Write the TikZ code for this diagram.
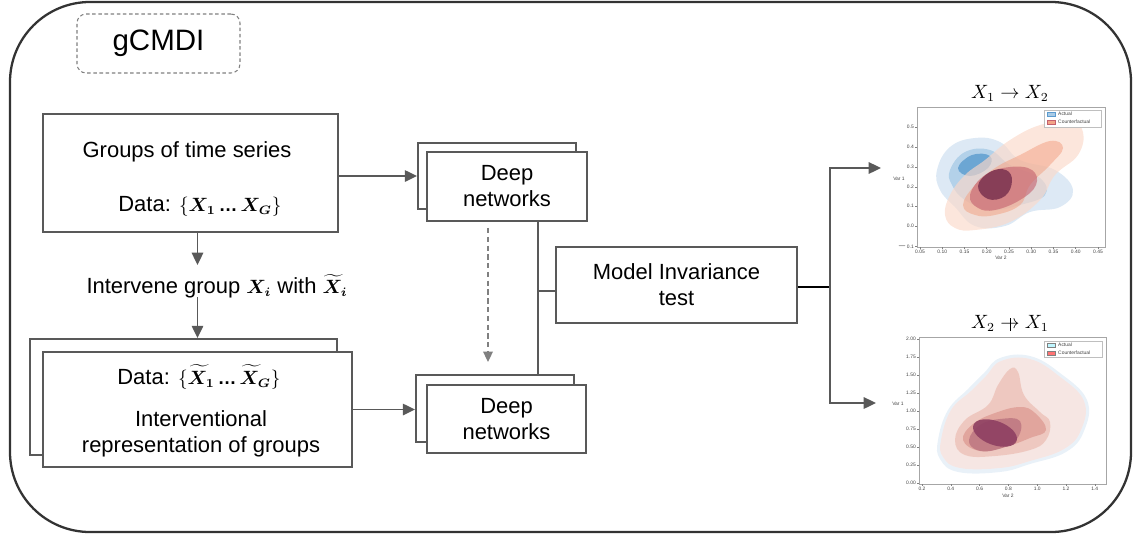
\documentclass[tikz,border=0pt]{standalone}
\usepackage{fontspec}
\setmainfont{Liberation Sans}
\usepackage{amsmath,amssymb,bm}
\usetikzlibrary{arrows.meta,calc}
\definecolor{lg}{HTML}{595959}
\definecolor{bord}{HTML}{333333}
\definecolor{bl1}{HTML}{D4E4F2}
\definecolor{bl2}{HTML}{A9CBE6}
\definecolor{bl3}{HTML}{5B9BCF}
\definecolor{rd1}{HTML}{FBD9C9}
\definecolor{rd2}{HTML}{F2A487}
\definecolor{rd3}{HTML}{C4606E}
\definecolor{rd4}{HTML}{6E2848}
\definecolor{pk1}{HTML}{F8E6E2}
\definecolor{pk2}{HTML}{EDC2B8}
\definecolor{pk3}{HTML}{DD9A92}
\definecolor{pk4}{HTML}{B8707E}
\definecolor{pk5}{HTML}{8E4062}
\newcommand{\narrow}{\mathrel{\hbox{\ooalign{$\rightarrow$\cr\hidewidth\rule[-0.3ex]{0.045em}{1.35ex}\hidewidth\cr}}}}
\newcommand{\bdots}{\mathinner{\textbf{\char"2026}}}
\newcommand{\mth}[1]{{\fontsize{10.6}{12}\selectfont$#1$}}
\begin{document}
\begin{tikzpicture}[x=0.02cm,y=-0.02cm,
  box/.style={draw=lg,line width=1.1pt,fill=white,inner sep=0pt},
  lbl/.style={font=\fontsize{12.5}{14.8}\selectfont,inner sep=1pt,align=center},
  arr/.style={draw=lg,line width=1.1pt,-{Triangle[length=7pt,width=6.5pt]}},
  dasharr/.style={draw=gray,line width=0.9pt,dashed,dash pattern=on 3pt off 2pt,-{Triangle[length=6pt,width=5.5pt]}},
  conn/.style={draw=lg,line width=1.1pt},
  tick/.style={font=\fontsize{2.8}{3}\selectfont,inner sep=0.5pt,text=black!75},
  frame/.style={draw=gray!70,line width=0.4pt},
  ttl/.style={font=\fontsize{10.5}{13}\selectfont,inner sep=0pt}]
\useasboundingbox (0,0) rectangle (1133,535);
% outer frame
\draw[bord,line width=1.3pt,rounded corners=1.6cm] (10,2) rectangle (1131,532);
% title
\node[draw=gray,dashed,dash pattern=on 2pt off 1.5pt,line width=0.6pt,rounded corners=0.18cm,
  minimum width=3.26cm,minimum height=1.18cm,font=\fontsize{16.8}{18}\selectfont] (gc) at (158.5,43.5) {gCMDI};

% left column
\node[box,minimum width=5.9cm,minimum height=2.36cm] (b1) at (190.5,173) {};
\node[lbl] (t1) at (187,152) {Groups of time series};
\node[lbl] (t2) at (200,206) {Data: \mth{\{\bm{X}_{\bm{1}}\bdots\bm{X}_{\bm{G}}\}}};
\node[lbl] (iv) at (217,286) {Intervene group \mth{\bm{X}_{\bm{i}}} with \mth{\widetilde{\bm{X}}_{\bm{i}}}};
\node[box,minimum width=6.14cm,minimum height=2.32cm] (lb) at (183.5,397) {};
\node[box,minimum width=6.18cm,minimum height=2.3cm] (lf) at (197.5,409.5) {};
\node[lbl] (t3) at (199,377) {Data: \mth{\{\widetilde{\bm{X}}_{\bm{1}}\bdots\widetilde{\bm{X}}_{\bm{G}}\}}};
\node[lbl] (t4) at (201,434) {Interventional\\representation of groups};

% deep networks
\node[box,minimum width=3.16cm,minimum height=1.32cm] (dtb) at (497,176) {};
\node[box,lbl,minimum width=3.2cm,minimum height=1.38cm] (dtf) at (507,186.5) {Deep\\networks};
\node[box,minimum width=3.16cm,minimum height=1.34cm] (dbb) at (495,408.5) {};
\node[box,lbl,minimum width=3.18cm,minimum height=1.36cm] (dbf) at (506.5,419) {Deep\\networks};

% model invariance
\node[box,lbl,minimum width=4.82cm,minimum height=1.52cm] (mi) at (676.5,285) {Model Invariance\\test};

% connectors
\draw[arr] (b1.east |- dtb.west) -- (dtb.west);
\draw[arr] (b1.south -| lf.north) -- (lf.north |- 0,265);
\draw[arr] (lf.north |- 0,297) -- (lf.north |- lb.north);
\draw[arr] (lf.east) -- (lf.east -| dbb.west);
\draw[dasharr] ($(dtf.south)+(-19,6)$) -- ($(dbb.north)+(-7,-12)$);
\draw[conn] ($(dtf.south)+(31,0)$) -- ($(dbb.north)+(43,0)$);
\draw[conn] ($(mi.west)+(-18,6)$) -- ($(mi.west)+(0,6)$);
\coordinate (split) at (830,287);
\coordinate (pt) at (881,168);
\coordinate (pb) at (876,403);
\draw[line width=1.1pt,black] ($(mi.east)+(0,2)$) -- (split);
\draw[arr] (split) |- (pt);
\draw[arr] (split) |- (pb);

% ---------- top plot ----------
\node[ttl] (ttop) at (1010,93) {$X_1 \rightarrow X_2$};
\begin{scope}
\clip (917,107) rectangle (1105,247);
\fill[bl1,opacity=0.8] plot[smooth cycle,tension=0.7] coordinates {(937,170) (950,147) (975,138) (1000,142) (1020,160) (1055,170) (1073,190) (1060,207) (1030,212) (1005,226) (975,226) (955,207) (940,190)};
\fill[bl2,opacity=0.8] plot[smooth cycle,tension=0.7] coordinates {(950,170) (965,152) (990,150) (1010,165) (1040,178) (1045,195) (1020,205) (990,210) (965,200) (952,185)};
\fill[bl3,opacity=0.8] plot[smooth cycle,tension=0.7] coordinates {(958,168) (972,155) (990,156) (988,168) (970,176)};
\fill[rd1,opacity=0.65] plot[smooth cycle,tension=0.7] coordinates {(945,215) (950,195) (965,175) (985,160) (1010,140) (1040,125) (1070,121) (1083,132) (1078,155) (1055,175) (1040,200) (1010,222) (975,230) (955,228)};
\fill[rd2,opacity=0.55] plot[smooth cycle,tension=0.7] coordinates {(963,205) (975,185) (995,168) (1020,155) (1050,141) (1063,148) (1050,165) (1030,185) (1020,205) (995,215) (975,215)};
\fill[rd3,opacity=0.6] plot[smooth cycle,tension=0.7] coordinates {(970,195) (985,175) (1010,167) (1032,170) (1036,185) (1020,200) (995,210) (978,208)};
\fill[rd4,opacity=0.75] plot[smooth cycle,tension=0.7] coordinates {(978,186) (990,172) (1006,170) (1012,181) (1005,196) (988,199)};
\end{scope}
\draw[frame] (917,107) rectangle (1105,247);
\foreach \lab/\yy in {0.5/127,0.4/147,0.3/167,0.2/187,0.1/206,0.0/226,{$-$0.1}/246}
  {\draw[gray,line width=0.3pt] (917,\yy) -- (915,\yy); \node[tick,anchor=east] at (915,\yy) {\lab};}
\foreach \lab [count=\k from 0] in {0.05,0.10,0.15,0.20,0.25,0.30,0.35,0.40,0.45}
  {\draw[gray,line width=0.3pt] (920+22.25*\k,247) -- (920+22.25*\k,249); \node[tick,anchor=north] at (920+22.25*\k,249) {\lab};}
\node[tick] at (1001,258) {Var 2};
\node[tick] at (899,179) {Var 1};
\draw[gray!50,line width=0.3pt,fill=white] (1044,110) rectangle (1101,127);
\fill[bl2,draw=bl3,line width=0.2pt] (1047,112) rectangle (1055,116);
\fill[rd2,draw=rd3,line width=0.2pt] (1047,120) rectangle (1055,124);
\node[tick,anchor=west] at (1057,114) {Actual};
\node[tick,anchor=west] at (1057,122) {Counterfactual};

% ---------- bottom plot ----------
\node[ttl] (tbot) at (1010,323) {$X_2 \narrow X_1$};
\begin{scope}
\clip (919,337) rectangle (1106,484);
\fill[bl1,opacity=0.5] plot[smooth cycle,tension=0.7] coordinates {(938,440) (948,410) (968,389) (984,373) (1000,358) (1030,356) (1060,373) (1087,400) (1084,431) (1066,452) (1030,464) (1000,472) (958,472) (940,459)};
\fill[pk1,opacity=0.9] plot[smooth cycle,tension=0.7] coordinates {(941,440) (951,410) (971,391) (986,376) (1001,361) (1030,359) (1059,376) (1084,401) (1081,430) (1064,449) (1030,461) (1000,468) (960,468) (943,457)};
\fill[pk2,opacity=0.8] plot[smooth cycle,tension=0.7] coordinates {(955,440) (965,420) (988,405) (998,385) (1010,369) (1018,372) (1024,395) (1040,412) (1050,422) (1046,440) (1030,450) (995,456) (965,455)};
\fill[pk3,opacity=0.75] plot[smooth cycle,tension=0.7] coordinates {(963,440) (973,424) (995,413) (1020,407) (1035,413) (1046,430) (1030,438) (1005,447) (980,451)};
\fill[pk4,opacity=0.75] plot[smooth cycle,tension=0.7] coordinates {(969,440) (980,425) (1000,419) (1020,421) (1016,440) (995,450) (977,450)};
\fill[pk5,opacity=0.9,rotate around={-20:(995,433)}] (995,433) ellipse [x radius=0.46cm,y radius=0.24cm];
\end{scope}
\draw[frame] (919,337) rectangle (1106,484);
\foreach \lab [count=\k from 0] in {2.00,1.75,1.50,1.25,1.00,0.75,0.50,0.25,0.00}
  {\draw[gray,line width=0.3pt] (919,339+18*\k) -- (917,339+18*\k); \node[tick,anchor=east] at (917,339+18*\k) {\lab};}
\foreach \lab [count=\k from 0] in {0.2,0.4,0.6,0.8,1.0,1.2,1.4}
  {\draw[gray,line width=0.3pt] (922+28.8*\k,484) -- (922+28.8*\k,486); \node[tick,anchor=north] at (922+28.8*\k,486) {\lab};}
\node[tick] at (1008,496) {Var 2};
\node[tick] at (898,404) {Var 1};
\draw[gray!50,line width=0.3pt,fill=white] (1044,341) rectangle (1102,357);
\fill[blue!15!cyan!25,draw=gray,line width=0.2pt] (1047,343) rectangle (1055,347);
\fill[red!55,draw=gray,line width=0.2pt] (1047,351) rectangle (1055,355);
\node[tick,anchor=west] at (1057,345) {Actual};
\node[tick,anchor=west] at (1057,353) {Counterfactual};
\end{tikzpicture}
\end{document}
